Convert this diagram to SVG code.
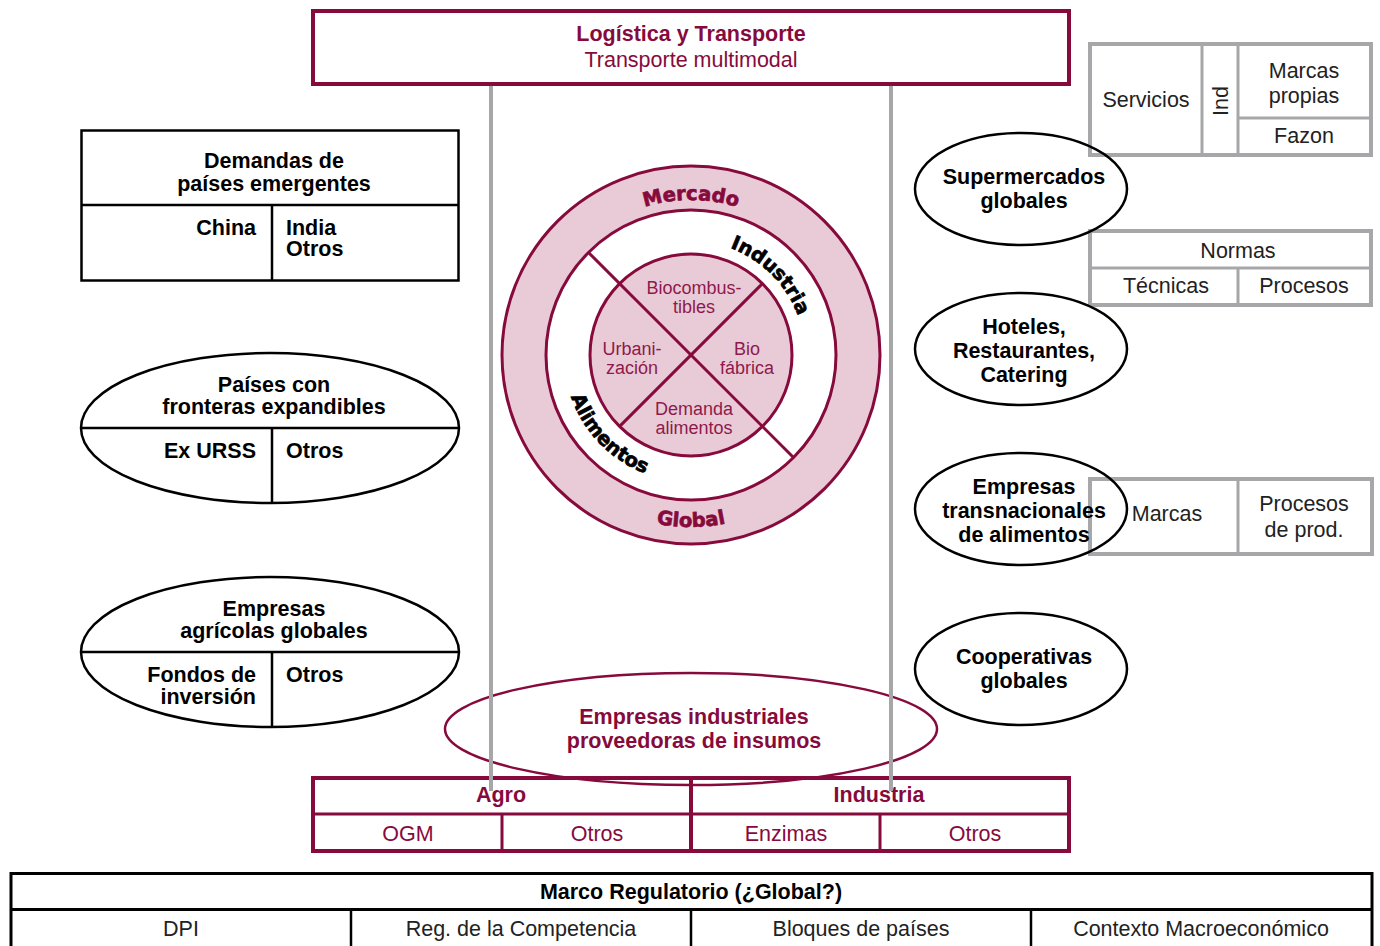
<svg xmlns="http://www.w3.org/2000/svg" width="1380" height="946" viewBox="0 0 1380 946">
<style>
text{font-family:"Liberation Sans",Arial,sans-serif;text-anchor:middle}
.b{font-weight:bold;font-size:21.5px;fill:#000}
.r{font-size:21.5px;fill:#222}
.cb{font-weight:bold;font-size:21.5px;fill:#870a3c}
.cr{font-size:21.5px;fill:#870a3c}
.ci{font-size:18px;fill:#8e1a4c}
.heavy{font-family:"DejaVu Sans",sans-serif;font-weight:bold;font-size:19.5px;stroke-width:0.7}
.crim{fill:none;stroke:#870a3c;stroke-width:4}
.blk{fill:none;stroke:#000;stroke-width:2.5}
.gry{fill:none;stroke:#a7a7a9;stroke-width:4}
.gryt{fill:none;stroke:#a7a7a9;stroke-width:3}
.conn{fill:none;stroke:#a7a7a9;stroke-width:4}
</style>
<defs>
<path id="pMercado" d="M 536,355 A 155 155 0 0 1 846,355"/>
<path id="pGlobal" d="M 519,355 A 172 172 0 0 0 863,355"/>
<path id="pIndustria" d="M 608.3,272.3 A 117 117 0 0 1 773.7,437.7"/>
<path id="pAlimentos" d="M 602.7,263.6 A 127 127 0 0 0 779.3,446.4"/>
</defs>
<rect width="1380" height="946" fill="#fff"/>

<g id="logistica">
<rect x="313" y="11" width="756" height="73" class="crim"/>
<text x="691" y="41" class="cb">Logística y Transporte</text>
<text x="691" y="67" class="cr">Transporte multimodal</text>
</g>

<g id="centro">
<circle cx="691" cy="355" r="189" fill="#e9cbd7" stroke="#870a3c" stroke-width="3"/>
<circle cx="691" cy="355" r="145" fill="#fff" stroke="#870a3c" stroke-width="3"/>
<circle cx="691" cy="355" r="101" fill="#e9cbd7" stroke="#870a3c" stroke-width="3"/>
<line x1="588.5" y1="252.5" x2="793.5" y2="457.5" stroke="#870a3c" stroke-width="3"/>
<line x1="762.4" y1="283.6" x2="619.6" y2="426.4" stroke="#870a3c" stroke-width="3"/>
<text class="heavy" fill="#870a3c" stroke="#870a3c"><textPath href="#pMercado" startOffset="50%">Mercado</textPath></text>
<text class="heavy" fill="#870a3c" stroke="#870a3c" font-size="20.5"><textPath href="#pGlobal" startOffset="50%">Global</textPath></text>
<text class="heavy" fill="#000" stroke="#000"><textPath href="#pIndustria" startOffset="50%">Industria</textPath></text>
<text class="heavy" fill="#000" stroke="#000"><textPath href="#pAlimentos" startOffset="50%">Alimentos</textPath></text>
<text x="694" y="294" class="ci">Biocombus-</text>
<text x="694" y="313" class="ci">tibles</text>
<text x="632" y="355" class="ci">Urbani-</text>
<text x="632" y="374" class="ci">zación</text>
<text x="747" y="355" class="ci">Bio</text>
<text x="747" y="374" class="ci">fábrica</text>
<text x="694" y="415" class="ci">Demanda</text>
<text x="694" y="434" class="ci">alimentos</text>
</g>

<g id="demandas">
<rect x="81.5" y="130.5" width="377" height="150" class="blk"/>
<line x1="81.5" y1="205" x2="458.5" y2="205" class="blk"/>
<line x1="272" y1="205" x2="272" y2="280.5" class="blk"/>
<text x="274" y="168" class="b">Demandas de</text>
<text x="274" y="191" class="b">países emergentes</text>
<text x="256" y="235" class="b" style="text-anchor:end">China</text>
<text x="286" y="235" class="b" style="text-anchor:start">India</text>
<text x="286" y="256" class="b" style="text-anchor:start">Otros</text>
</g>

<g id="paises">
<ellipse cx="270" cy="428" rx="189" ry="75" class="blk"/>
<line x1="81" y1="428" x2="459" y2="428" class="blk"/>
<line x1="272" y1="428" x2="272" y2="503" class="blk"/>
<text x="274" y="392" class="b">Países con</text>
<text x="274" y="414" class="b">fronteras expandibles</text>
<text x="256" y="458" class="b" style="text-anchor:end">Ex URSS</text>
<text x="286" y="458" class="b" style="text-anchor:start">Otros</text>
</g>

<g id="agricolas">
<ellipse cx="270" cy="652" rx="189" ry="75" class="blk"/>
<line x1="81" y1="652" x2="459" y2="652" class="blk"/>
<line x1="272" y1="652" x2="272" y2="727" class="blk"/>
<text x="274" y="616" class="b">Empresas</text>
<text x="274" y="638" class="b">agrícolas globales</text>
<text x="256" y="682" class="b" style="text-anchor:end">Fondos de</text>
<text x="256" y="704" class="b" style="text-anchor:end">inversión</text>
<text x="286" y="682" class="b" style="text-anchor:start">Otros</text>
</g>

<g id="servicios">
<rect x="1090" y="44" width="281" height="111" class="gry"/>
<line x1="1202" y1="44" x2="1202" y2="155" class="gryt"/>
<line x1="1238" y1="44" x2="1238" y2="155" class="gryt"/>
<line x1="1238" y1="118" x2="1371" y2="118" class="gryt"/>
<text x="1146" y="107" class="r">Servicios</text>
<text transform="translate(1228,101) rotate(-90)" class="r">Ind</text>
<text x="1304" y="78" class="r">Marcas</text>
<text x="1304" y="103" class="r">propias</text>
<text x="1304" y="143" class="r">Fazon</text>
</g>

<g id="normas">
<rect x="1090" y="231" width="281" height="74" class="gry"/>
<line x1="1090" y1="268" x2="1371" y2="268" class="gryt"/>
<line x1="1238" y1="268" x2="1238" y2="305" class="gryt"/>
<text x="1238" y="258" class="r">Normas</text>
<text x="1166" y="293" class="r">Técnicas</text>
<text x="1304" y="293" class="r">Procesos</text>
</g>

<g id="marcas">
<rect x="1090" y="479" width="282" height="75" class="gry"/>
<line x1="1238" y1="479" x2="1238" y2="554" class="gryt"/>
<text x="1167" y="521" class="r">Marcas</text>
<text x="1304" y="511" class="r">Procesos</text>
<text x="1304" y="537" class="r">de prod.</text>
</g>

<g id="supermercados">
<ellipse cx="1021" cy="189" rx="106" ry="56" class="blk"/>
<text x="1024" y="184" class="b">Supermercados</text>
<text x="1024" y="208" class="b">globales</text>
</g>

<g id="hoteles">
<ellipse cx="1021" cy="349" rx="106" ry="56" class="blk"/>
<text x="1024" y="334" class="b">Hoteles,</text>
<text x="1024" y="358" class="b">Restaurantes,</text>
<text x="1024" y="382" class="b">Catering</text>
</g>

<g id="transnacionales">
<ellipse cx="1021" cy="509" rx="106" ry="56" class="blk"/>
<text x="1024" y="494" class="b">Empresas</text>
<text x="1024" y="518" class="b">transnacionales</text>
<text x="1024" y="542" class="b">de alimentos</text>
</g>

<g id="cooperativas">
<ellipse cx="1021" cy="669" rx="106" ry="56" class="blk"/>
<text x="1024" y="664" class="b">Cooperativas</text>
<text x="1024" y="688" class="b">globales</text>
</g>

<g id="proveedoras">
<ellipse cx="691" cy="729" rx="246" ry="56" fill="none" stroke="#870a3c" stroke-width="2.5"/>
<text x="694" y="724" class="cb">Empresas industriales</text>
<text x="694" y="748" class="cb">proveedoras de insumos</text>
</g>

<g id="agro-industria">
<rect x="313" y="778" width="756" height="73" class="crim"/>
<line x1="691" y1="778" x2="691" y2="851" class="crim"/>
<line x1="313" y1="814" x2="1069" y2="814" stroke="#870a3c" stroke-width="3"/>
<line x1="502" y1="814" x2="502" y2="851" stroke="#870a3c" stroke-width="3"/>
<line x1="880" y1="814" x2="880" y2="851" stroke="#870a3c" stroke-width="3"/>
<text x="501" y="802" class="cb">Agro</text>
<text x="879" y="802" class="cb">Industria</text>
<text x="408" y="841" class="cr">OGM</text>
<text x="597" y="841" class="cr">Otros</text>
<text x="786" y="841" class="cr">Enzimas</text>
<text x="975" y="841" class="cr">Otros</text>
</g>

<g id="marco">
<rect x="11" y="873.5" width="1361" height="80" fill="none" stroke="#000" stroke-width="3"/>
<line x1="11" y1="909.5" x2="1372" y2="909.5" stroke="#000" stroke-width="3"/>
<line x1="351" y1="909" x2="351" y2="946" stroke="#000" stroke-width="2.5"/>
<line x1="691" y1="909" x2="691" y2="946" stroke="#000" stroke-width="2.5"/>
<line x1="1031" y1="909" x2="1031" y2="946" stroke="#000" stroke-width="2.5"/>
<text x="691" y="899" class="b">Marco Regulatorio (¿Global?)</text>
<text x="181" y="936" class="r">DPI</text>
<text x="521" y="936" class="r">Reg. de la Competencia</text>
<text x="861" y="936" class="r">Bloques de países</text>
<text x="1201" y="936" class="r">Contexto Macroeconómico</text>
</g>

<g id="connectors">
<line x1="491" y1="86" x2="491" y2="791" class="conn"/>
<line x1="891" y1="86" x2="891" y2="791" class="conn"/>
</g>
</svg>
